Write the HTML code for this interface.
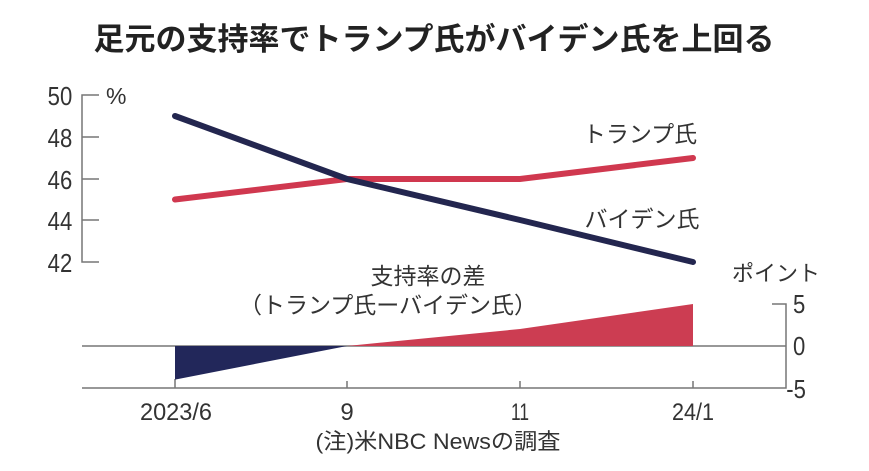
<!DOCTYPE html>
<html><head><meta charset="utf-8"><style>
body{margin:0;background:#fff;}
svg text{font-family:"Liberation Sans","Noto Sans CJK JP",sans-serif;fill:#333;}
</style></head><body>
<svg width="869" height="466" viewBox="0 0 869 466" xmlns="http://www.w3.org/2000/svg">
<text x="434" y="50" font-size="31" font-weight="bold" text-anchor="middle" style="fill:#222">足元の支持率でトランプ氏がバイデン氏を上回る</text>
<g stroke="#777" stroke-width="1.5" fill="none">
<path d="M99 95H82V262H99M82 137H99M82 179H99M82 220H99"/>
<path d="M82 346H786M82 388H786V304H772"/>
<path d="M347 388V381M520 388V381M693 388V381M175 388V379"/>
</g>
<g font-size="26" text-anchor="end" transform="scale(0.85,1)">
<text x="85" y="105">50</text><text x="85" y="147">48</text><text x="85" y="189">46</text><text x="85" y="230">44</text><text x="85" y="272">42</text>
</g>
<text x="106" y="104" font-size="23">%</text>
<polygon points="175,346 175,379.6 347,346" fill="#22275a"/>
<polygon points="347,346 520,329 693,304 693,346" fill="#cc3d52"/>
<polyline points="175,199.5 347,179 520,179 693,158" fill="none" stroke="#d0384f" stroke-width="6" stroke-linecap="round"/>
<polyline points="175,116 347,179 520,220 693,262" fill="none" stroke="#23264f" stroke-width="6" stroke-linecap="round"/>
<text x="640" y="142" font-size="23" text-anchor="middle">トランプ氏</text>
<text x="642" y="227" font-size="23" text-anchor="middle">バイデン氏</text>
<text x="428" y="284" font-size="23" text-anchor="middle">支持率の差</text>
<text x="388" y="313" font-size="23" text-anchor="middle">（トランプ氏ーバイデン氏）</text>
<text x="776" y="281" font-size="22" text-anchor="middle">ポイント</text>
<g font-size="26" transform="scale(0.85,1)">
<text x="933" y="313">5</text><text x="933" y="355">0</text><text x="925" y="398">-5</text>
</g>
<g font-size="24" text-anchor="middle">
<text x="176" y="420" textLength="72" lengthAdjust="spacingAndGlyphs">2023/6</text>
<text x="347" y="420">9</text>
<text x="520" y="420" textLength="18" lengthAdjust="spacingAndGlyphs">11</text>
<text x="693" y="420" textLength="42" lengthAdjust="spacingAndGlyphs">24/1</text>
</g>
<text x="438" y="449" font-size="22" text-anchor="middle" textLength="245" lengthAdjust="spacingAndGlyphs">(注)米NBC Newsの調査</text>
</svg>
</body></html>
